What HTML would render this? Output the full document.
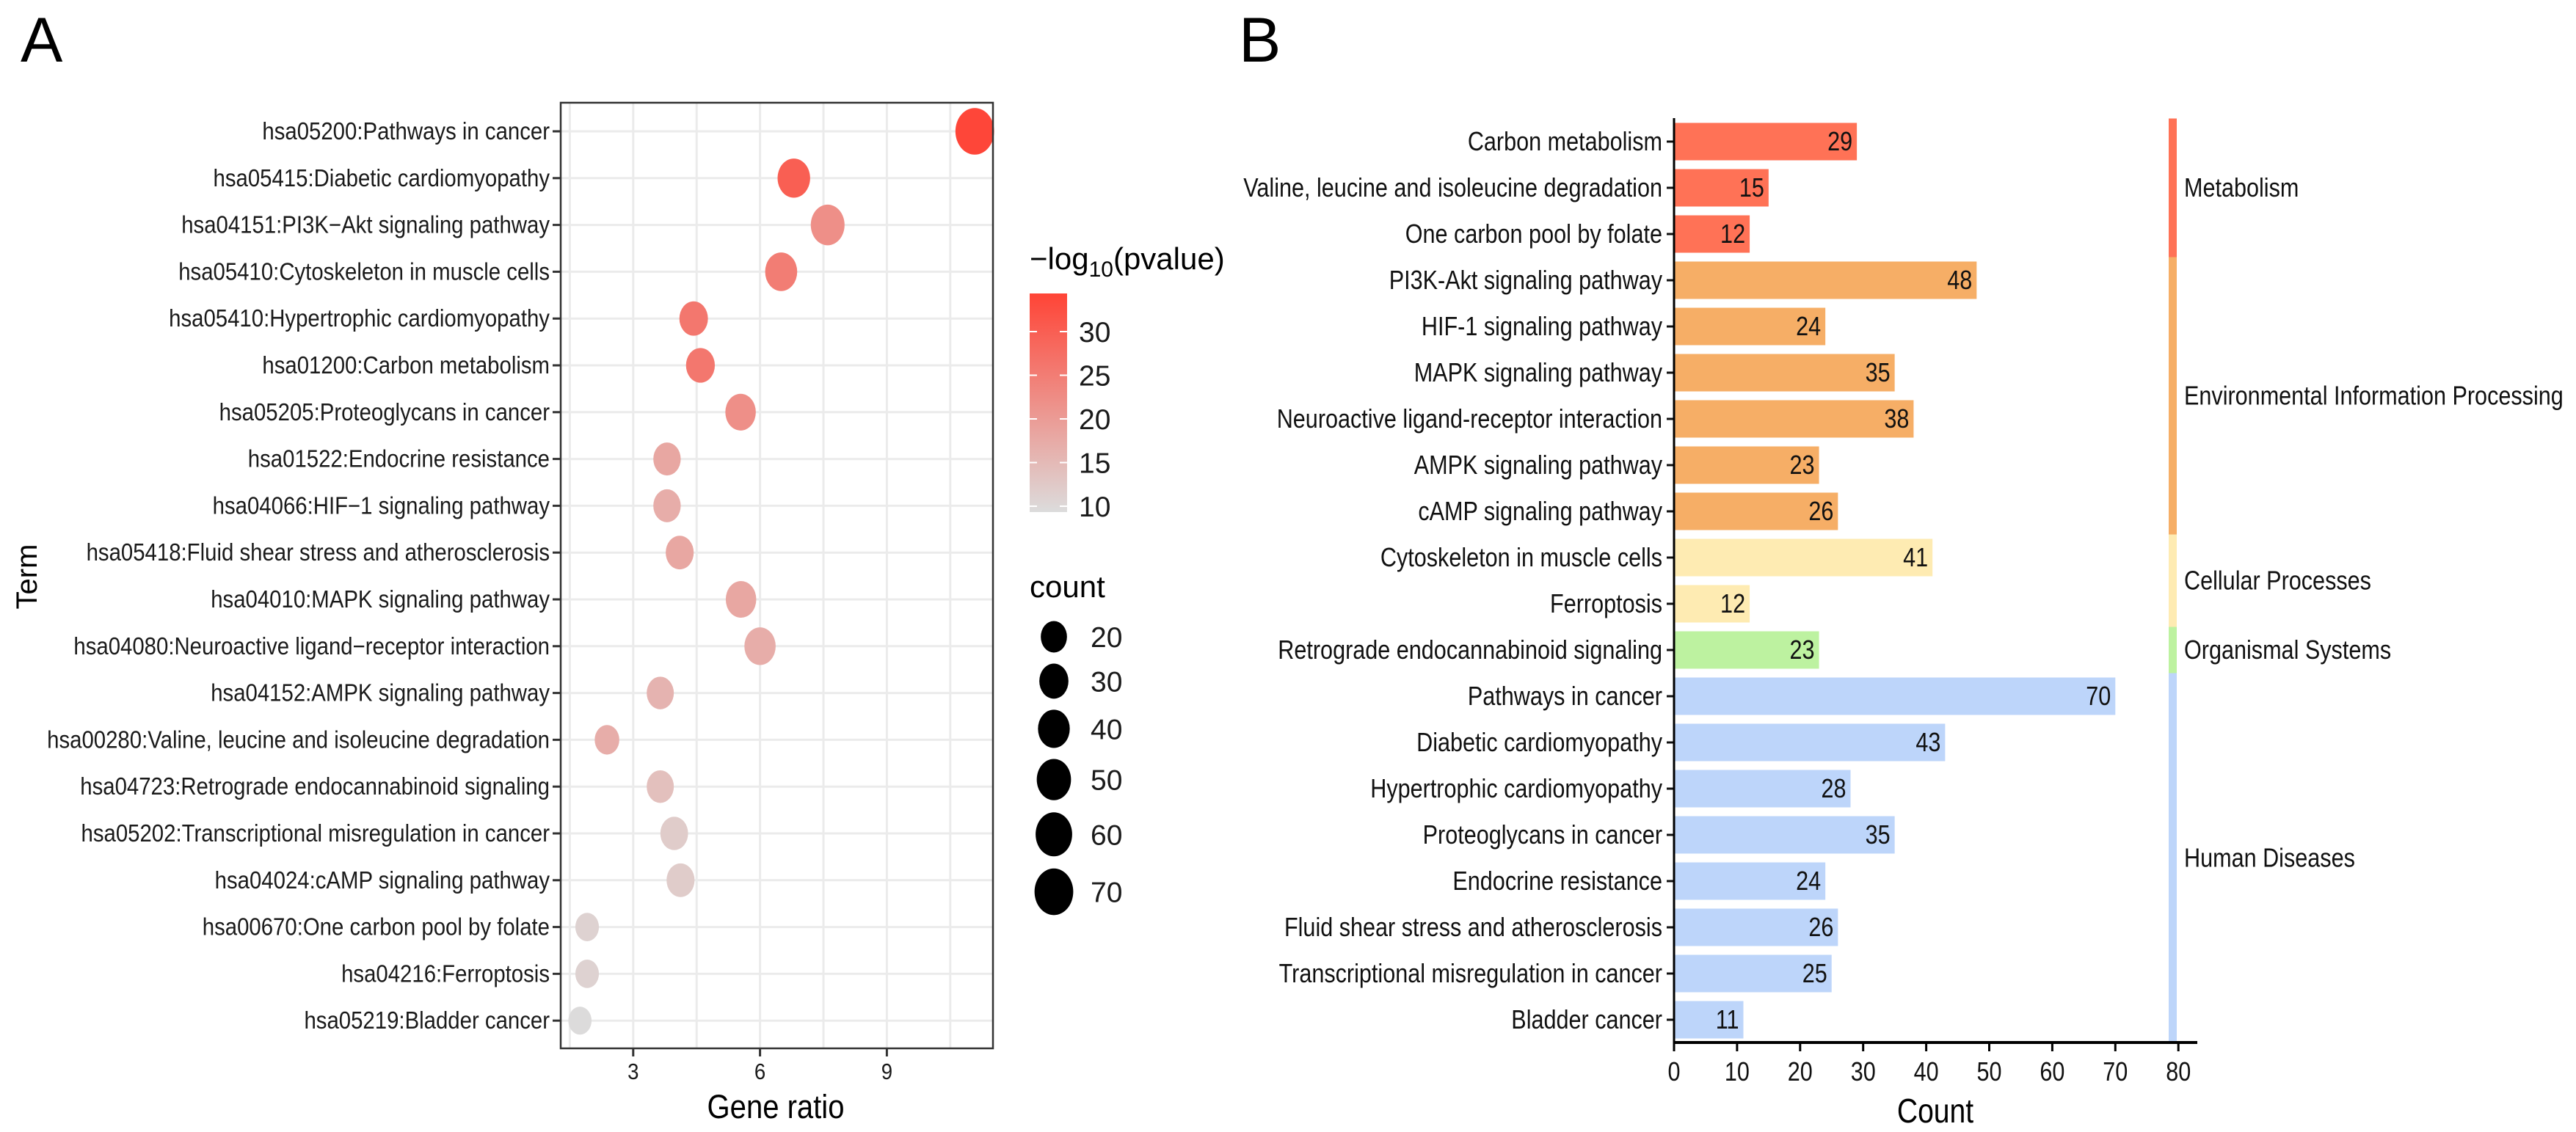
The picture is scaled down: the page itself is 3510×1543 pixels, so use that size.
<!DOCTYPE html>
<html><head><meta charset="utf-8"><style>
html,body{margin:0;padding:0;background:#fff}
svg{display:block;font-family:"Liberation Sans",Arial,sans-serif}
</style></head><body>
<svg id="fig" width="3510" height="1543" viewBox="0 0 3510 1543" xmlns="http://www.w3.org/2000/svg">
<rect width="3510" height="1543" fill="#fff"/>
<text x="28" y="84" font-size="86">A</text>
<text x="1688" y="84" font-size="86">B</text>
<g id="pa"></g>
<g id="pb"></g>
</svg>
<script>
// ---------- Panel A data ----------
const termsA = ["hsa05200:Pathways in cancer","hsa05415:Diabetic cardiomyopathy","hsa04151:PI3K\u2212Akt signaling pathway","hsa05410:Cytoskeleton in muscle cells","hsa05410:Hypertrophic cardiomyopathy","hsa01200:Carbon metabolism","hsa05205:Proteoglycans in cancer","hsa01522:Endocrine resistance","hsa04066:HIF\u22121 signaling pathway","hsa05418:Fluid shear stress and atherosclerosis","hsa04010:MAPK signaling pathway","hsa04080:Neuroactive ligand\u2212receptor interaction","hsa04152:AMPK signaling pathway","hsa00280:Valine, leucine and isoleucine degradation","hsa04723:Retrograde endocannabinoid signaling","hsa05202:Transcriptional misregulation in cancer","hsa04024:cAMP signaling pathway","hsa00670:One carbon pool by folate","hsa04216:Ferroptosis","hsa05219:Bladder cancer"];
const geneRatio = [11.08,6.8,7.6,6.5,4.43,4.59,5.54,3.8,3.8,4.1,5.55,6.0,3.64,2.38,3.64,3.97,4.12,1.91,1.91,1.74];
const countA = [70,43,48,41,28,29,35,24,24,26,35,38,23,15,23,25,26,12,12,11];
const logP = [34,30,22,25,26,26,22,18,17,18,18,17,16,17,14,12,12,11,11,9.5];
const xTicksA = [3,6,9];
const colorTicks = [10,15,20,25,30];
const sizeKeys = [20,30,40,50,60,70];

// ---------- Panel B data ----------
const termsB = ["Carbon metabolism","Valine, leucine and isoleucine degradation","One carbon pool by folate","PI3K-Akt signaling pathway","HIF-1 signaling pathway","MAPK signaling pathway","Neuroactive ligand-receptor interaction","AMPK signaling pathway","cAMP signaling pathway","Cytoskeleton in muscle cells","Ferroptosis","Retrograde endocannabinoid signaling","Pathways in cancer","Diabetic cardiomyopathy","Hypertrophic cardiomyopathy","Proteoglycans in cancer","Endocrine resistance","Fluid shear stress and atherosclerosis","Transcriptional misregulation in cancer","Bladder cancer"];
const countB = [29,15,12,48,24,35,38,23,26,41,12,23,70,43,28,35,24,26,25,11];
const groupB = [0,0,0,1,1,1,1,1,1,2,2,3,4,4,4,4,4,4,4,4];
const groupNames = ["Metabolism","Environmental Information Processing","Cellular Processes","Organismal Systems","Human Diseases"];
const groupColors = ["#FF7256","#F6AE66","#FEEBB2","#BDF2A0","#BDD5FA"];
const xTicksB = [0,10,20,30,40,50,60,70,80];

const NS="http://www.w3.org/2000/svg";
function mk(tag,attrs,parent,txt){const e=document.createElementNS(NS,tag);for(const k in attrs)e.setAttribute(k,attrs[k]);if(txt!==undefined)e.textContent=txt;parent.appendChild(e);return e;}

// ---------- Panel A ----------
const pa=document.getElementById('pa');
const aL=764,aR=1353,aT=140,aB=1429;
const xA=v=>690+57.6*v;
const yA=i=>179+63.8*i;
const lo=[220,220,220],hi=[255,68,54];
function colP(v){let t=(v-9.3)/(34.4-9.3);t=Math.max(0,Math.min(1,t));const c=lo.map((l,k)=>Math.round(l+(hi[k]-l)*t));return `rgb(${c[0]},${c[1]},${c[2]})`;}
const hOf=c=>Math.sqrt(973+43.8*c);

mk('rect',{x:aL,y:aT,width:aR-aL,height:aB-aT,fill:'#fff'},pa);
for(const g of [1.5,3,4.5,6,7.5,9,10.5]){const l=mk('line',{x1:xA(g),x2:xA(g),y1:aT,y2:aB,stroke:'#ebebeb','stroke-width':3},pa);}
termsA.forEach((t,i)=>{const l=mk('line',{x1:aL,x2:aR,y1:yA(i),y2:yA(i),stroke:'#ebebeb','stroke-width':3},pa);});
termsA.forEach((t,i)=>{
  const h=hOf(countA[i]);
  const e=mk('ellipse',{cx:xA(geneRatio[i]),cy:yA(i),rx:h*0.415,ry:h/2,fill:colP(logP[i])},pa);
  
  
  mk('line',{x1:aL-11,x2:aL,y1:yA(i),y2:yA(i),stroke:'#333','stroke-width':3},pa);
  const tx=mk('text',{transform:`translate(${aL-15},${yA(i)+11}) scale(0.89,1)`,'text-anchor':'end','font-size':33,fill:'#1a1a1a'},pa,t);
  
  
});
mk('rect',{x:aL,y:aT,width:aR-aL,height:aB-aT,fill:'none',stroke:'#333','stroke-width':2.5},pa);
xTicksA.forEach(v=>{
  mk('line',{x1:xA(v),x2:xA(v),y1:aB,y2:aB+11,stroke:'#333','stroke-width':3},pa);
  const tx=mk('text',{transform:`translate(${xA(v)},1471) scale(0.89,1)`,'text-anchor':'middle','font-size':31,fill:'#1a1a1a'},pa,String(v));
  
  
});
let t1=mk('text',{transform:`translate(1057,1524) scale(0.89,1)`,'text-anchor':'middle','font-size':45},pa,'Gene ratio');

let t2=mk('text',{transform:`translate(50,786) rotate(-90)`,'text-anchor':'middle','font-size':40},pa,'Term');


// colour legend
const defs=mk('defs',{},pa);
const gr=mk('linearGradient',{id:'cg',x1:0,y1:1,x2:0,y2:0},defs);
mk('stop',{offset:'0','stop-color':colP(9.3)},gr);
mk('stop',{offset:'1','stop-color':colP(34.4)},gr);
const lt=mk('text',{x:1403,y:367,'font-size':42},pa);

lt.innerHTML='\u2212log<tspan font-size="30" dy="10">10</tspan><tspan dy="-10">(pvalue)</tspan>';
const cb=mk('rect',{x:1403,y:400,width:51,height:298,fill:'url(#cg)'},pa);

const yC=v=>690-11.9*(v-10);
colorTicks.forEach(v=>{
  mk('line',{x1:1403,x2:1413,y1:yC(v),y2:yC(v),stroke:'#fff','stroke-width':2},pa);
  mk('line',{x1:1444,x2:1454,y1:yC(v),y2:yC(v),stroke:'#fff','stroke-width':2},pa);
  const tx=mk('text',{x:1470,y:yC(v)+14,'font-size':39,fill:'#1a1a1a'},pa,String(v));
  
});
const ct=mk('text',{x:1403,y:814,'font-size':42},pa,'count');

let ly=868-hOf(sizeKeys[0])/2;
sizeKeys.forEach((k,j)=>{
  const h=hOf(k); const cy=ly+h/2; ly+=h+(j<3?15:16.5);
  const e=mk('ellipse',{cx:1436,cy:cy,rx:h*0.415,ry:h/2,fill:'#000'},pa);
  
  const tx=mk('text',{x:1486,y:cy+14,'font-size':39,fill:'#1a1a1a'},pa,String(k));
  
});

// ---------- Panel B ----------
const pb=document.getElementById('pb');
const bL=2281,bT=161,bB=1421;
const xB=v=>bL+8.59*v;
const yB=i=>193+63*i;
termsB.forEach((t,i)=>{
  const r=mk('rect',{x:bL,y:yB(i)-25.5,width:xB(countB[i])-bL,height:51,fill:groupColors[groupB[i]]},pb);
  
  
  const v=mk('text',{transform:`translate(${xB(countB[i])-6},${yB(i)+12}) scale(0.85,1)`,'text-anchor':'end','font-size':36,fill:'#111'},pb,String(countB[i]));
  
  mk('line',{x1:bL-10,x2:bL,y1:yB(i),y2:yB(i),stroke:'#111','stroke-width':3},pb);
  const tx=mk('text',{transform:`translate(${bL-16},${yB(i)+12}) scale(0.85,1)`,'text-anchor':'end','font-size':36,fill:'#111'},pb,t);
  
});
// category strip
groupNames.forEach((g,gi)=>{
  const idx=groupB.map((v,i)=>v===gi?i:-1).filter(i=>i>=0);
  const y0=yB(idx[0])-31.5,y1=yB(idx[idx.length-1])+31.5;
  const s=mk('rect',{x:2955,y:y0,width:11,height:y1-y0,fill:groupColors[gi]},pb);
  
  const tx=mk('text',{transform:`translate(2976,${(y0+y1)/2+12}) scale(0.85,1)`,'font-size':36,fill:'#111'},pb,g);
  
});
mk('line',{x1:bL,x2:bL,y1:bT,y2:bB+2,stroke:'#000','stroke-width':3},pb);
mk('line',{x1:bL-1,x2:2994,y1:bB,y2:bB,stroke:'#000','stroke-width':4},pb);
xTicksB.forEach(v=>{
  mk('line',{x1:xB(v),x2:xB(v),y1:bB,y2:bB+12,stroke:'#000','stroke-width':3},pb);
  const tx=mk('text',{transform:`translate(${xB(v)},1473) scale(0.85,1)`,'text-anchor':'middle','font-size':36,fill:'#111'},pb,String(v));
  
});
const cx=mk('text',{transform:`translate(2637,1530) scale(0.85,1)`,'text-anchor':'middle','font-size':46},pb,'Count');

</script>
</body></html>
